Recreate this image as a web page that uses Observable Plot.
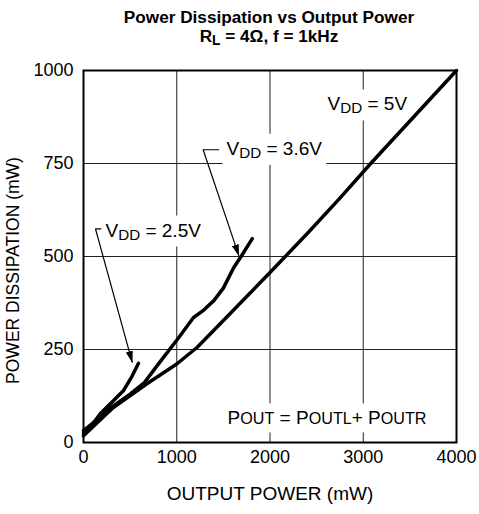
<!DOCTYPE html>
<html><head><meta charset="utf-8">
<script src="https://cdn.jsdelivr.net/npm/d3@7"></script>
<script src="https://cdn.jsdelivr.net/npm/@observablehq/plot@0.6"></script>
<style>
body{margin:0;background:#fff;font-family:"Liberation Sans",Arial,sans-serif;}
#wrap{width:479px;height:514px;position:relative;overflow:hidden;}
#title{height:50px;box-sizing:border-box;padding-top:8px;padding-left:59px;text-align:center;font-weight:bold;font-size:17.2px;color:#000;}
#title div{height:19px;line-height:19px;white-space:nowrap;}
#title sub{font-size:80%;vertical-align:-3px;line-height:0;}
svg{display:block;}
</style></head>
<body>
<div id="wrap">
<div id="title"><div>Power Dissipation vs Output Power</div><div>R<sub>L</sub> = 4Ω, f = 1kHz</div></div>
<div id="chart"></div>
</div>
<script>
// ---- data ----
const xTicks = [0, 1000, 2000, 3000, 4000];
const yTicks = [0, 250, 500, 750, 1000];
const xLabel = "OUTPUT POWER (mW)";
const yLabel = "POWER DISSIPATION (mW)";

const v5X  = [0, 320, 680, 1000, 1220, 1500, 2000, 2400, 2750, 3080, 4000];
const v5Y  = [18, 94, 158, 211, 256, 328, 457, 562, 657, 750, 1000];
const v36X = [0, 150, 300, 500, 650, 800, 1000, 1180, 1290, 1400, 1500, 1610, 1690, 1810];
const v36Y = [32, 62, 95, 130, 160, 210, 275, 336, 356, 382, 415, 470, 500, 548];
const v25X = [0, 100, 180, 320, 430, 520, 590];
const v25Y = [25, 50, 77, 112, 140, 178, 213];

const annText = ["V_DD_ = 5V", "V_DD_ = 3.6V", "V_DD_ = 2.5V", "P~OUT~ = P~OUTL~+ P~OUTR~"];
const annX = [2617, 1534, 236, 1545];
const annY = [909, 790, 570, 65];

const leaderSeries = ["3.6V", "3.6V", "3.6V", "2.5V", "2.5V", "2.5V"];
const leaderX = [1450, 1283, 1665, 190, 129, 522];
const leaderY = [787, 787, 503, 574, 574, 216];

// ---- tables ----
const curves = [
  ...v5X.map((x, i) => ({s: "5V", x, y: v5Y[i]})),
  ...v36X.map((x, i) => ({s: "3.6V", x, y: v36Y[i]})),
  ...v25X.map((x, i) => ({s: "2.5V", x, y: v25Y[i]}))
];
const annotations = annText.map((t, i) => ({t, x: annX[i], y: annY[i]}));
const leaders = leaderX.map((x, i) => ({s: leaderSeries[i], x, y: leaderY[i]}));

const FONT = "'Liberation Sans', Arial, Helvetica, sans-serif";
const FS_TICK = 18;
const FS_ANN = 19;
const FS_XL = 19;
const FS_YL = 17.5;

const chart = Plot.plot({
  width: 479, height: 464,
  marginTop: 20, marginBottom: 72, marginLeft: 83, marginRight: 23,
  style: {fontFamily: FONT, fontSize: FS_TICK + "px", color: "#000", background: "#fff"},
  x: {domain: [0, 4000]},
  y: {domain: [0, 1000]},
  marks: [
    Plot.gridX(xTicks.slice(1, -1), {stroke: "#222", strokeOpacity: 1, strokeWidth: 1}),
    Plot.gridY(yTicks.slice(1, -1), {stroke: "#222", strokeOpacity: 1, strokeWidth: 1}),
    Plot.axisX(xTicks, {tickSize: 0, tickPadding: 8, label: null, fontSize: FS_TICK, tickFormat: d => String(d)}),
    Plot.axisY(yTicks, {tickSize: 0, tickPadding: 10, label: null, fontSize: FS_TICK, tickFormat: d => String(d)}),
    Plot.frame({stroke: "#000", strokeWidth: 2}),
    Plot.line(leaders, {x: "x", y: "y", z: "s", stroke: "#000", strokeWidth: 1.2, markerEnd: "arrow"}),
    Plot.text(annotations, {x: "x", y: "y", text: "t", textAnchor: "start", fontSize: FS_ANN, fill: "#000"}),
    Plot.line(curves, {x: "x", y: "y", z: "s", stroke: "#000", strokeWidth: 3.5, strokeLinejoin: "round", strokeLinecap: "round"}),
    Plot.text([xLabel], {text: d => d, frameAnchor: "bottom", dy: 57, fontSize: FS_XL, fill: "#000"}),
    Plot.text([yLabel], {text: d => d, frameAnchor: "left", rotate: -90, textAnchor: "middle", dx: -70, dy: 14, fontSize: FS_YL, fill: "#000"})
  ]
});
document.getElementById("chart").appendChild(chart);

// ---- rich text (subscripts / small caps) with white boxes ----
const svg = d3.select(chart);
svg.selectAll("text").each(function() {
  const t = this.textContent;
  if (!/[_~]/.test(t)) return;
  const parts = t.split(/(_[^_]*_|~[^~]*~)/).filter(s => s.length);
  const el = d3.select(this);
  el.text(null);
  let shift = 0;
  parts.forEach(p => {
    let kind = "n", s = p;
    if (p[0] === "_") { kind = "sub"; s = p.slice(1, -1); }
    else if (p[0] === "~") { kind = "sc"; s = p.slice(1, -1); }
    const target = kind === "sub" ? 3 : 0;
    const ts = el.append("tspan").text(s);
    if (kind === "sub") ts.attr("font-size", (FS_ANN * 0.8) + "px");
    if (kind === "sc") ts.attr("font-size", (FS_ANN * 0.85) + "px");
    if (target !== shift) { ts.attr("dy", target - shift); shift = target; }
  });
  const bb = this.getBBox();
  const pad = 4;
  d3.select(this.parentNode).insert("rect", () => this)
    .attr("transform", this.getAttribute("transform"))
    .attr("x", bb.x - pad).attr("y", bb.y - pad)
    .attr("width", bb.width + 2 * pad).attr("height", bb.height + 2 * pad)
    .attr("fill", "#fff").attr("stroke", "none");
});

// ---- filled arrowheads ----
svg.selectAll("marker").each(function() {
  const m = d3.select(this);
  m.attr("viewBox", "-11 -4 12 8").attr("markerWidth", 12).attr("markerHeight", 8)
   .attr("markerUnits", "userSpaceOnUse").attr("refX", 0).attr("refY", 0)
   .attr("fill", "#000").attr("stroke", "none");
  m.selectAll("*").remove();
  m.append("path").attr("d", "M-11,-3.6L1,0L-11,3.6Z");
});
</script>
</body></html>
